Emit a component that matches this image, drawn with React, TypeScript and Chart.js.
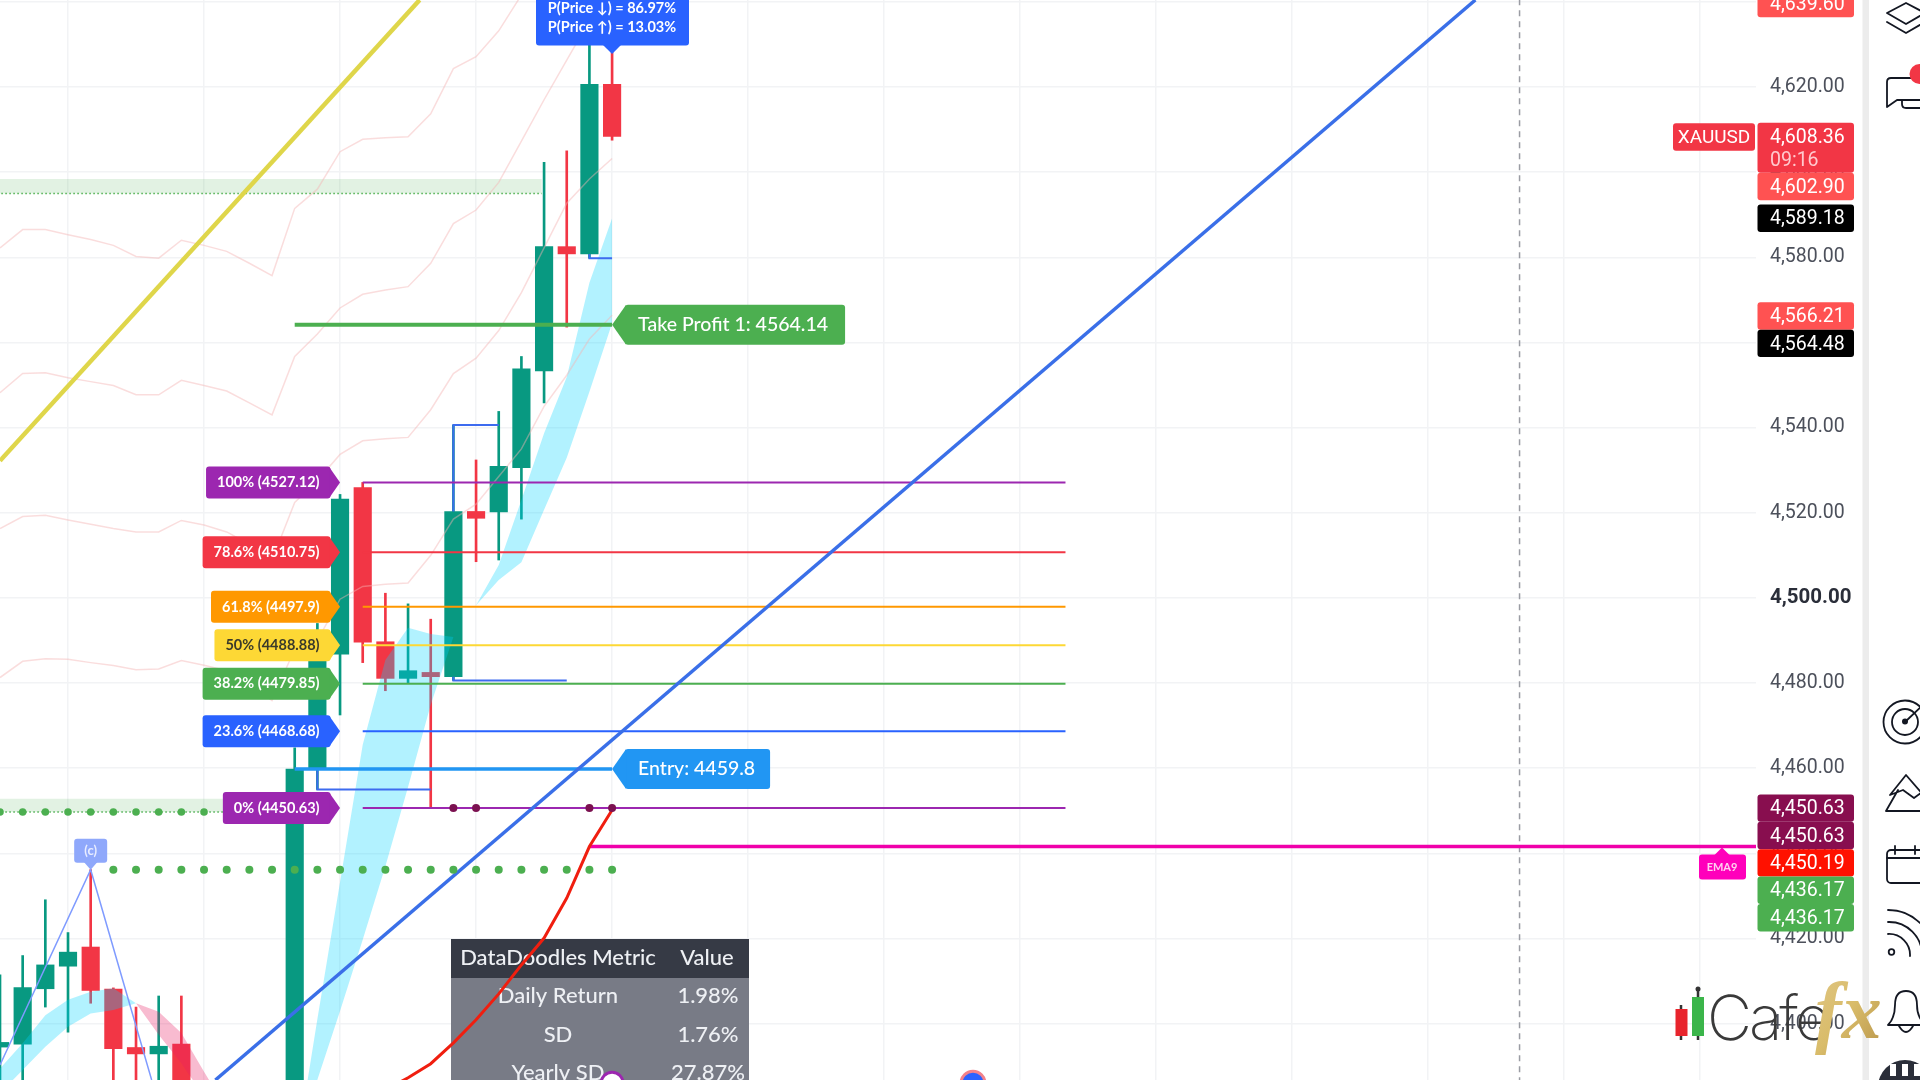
import { useEffect, useRef } from "react";
import { Chart, registerables, type Plugin } from "chart.js";

Chart.register(...registerables);

const UP = "#089981";
const DOWN = "#f23645";
const FONT = "Lato, sans-serif";
const AXIS_FONT = "Roboto, sans-serif";

// candles, index 0 is the left edge of the view; 9-12 sit below the visible range
const opens = [4394.5, 4395.2, 4408.2, 4413.5, 4418, 4408.1, 4394.4, 4392.9, 4395.2, null, null, null, null, 4380, 4460, 4486.8, 4525.9, 4489.7, 4481.1, 4482.5, 4481.5, 4520.3, 4520.2, 4530.6, 4553.3, 4582.5, 4580.8, 4620.6];
const closes = [4395.6, 4408.5, 4413.8, 4416.8, 4407.8, 4394.1, 4392.9, 4394.7, 4380, null, null, null, null, 4459.8, 4486, 4523.2, 4489.6, 4481.1, 4482.9, 4481.5, 4520.3, 4518.7, 4530.9, 4553.8, 4582.5, 4580.8, 4620.6, 4608.36];
const highs = [4411.5, 4416, 4429.1, 4421.4, 4436.17, 4408.4, 4403.9, 4406.5, 4406.5, null, null, null, null, 4464.8, 4494, 4524.3, 4527.12, 4501.1, 4498.6, 4495, 4540.6, 4532.4, 4543.8, 4556.7, 4602.3, 4605, 4635, 4630];
const lows = [4380, 4380, 4403.9, 4398, 4404.8, 4380, 4380, 4380, 4375, null, null, null, null, 4375, 4455, 4472.5, 4484.8, 4478.2, 4479.85, 4450.63, 4480.6, 4508.5, 4508.9, 4518.5, 4545.8, 4563.6, 4579.8, 4607.5];

const priceTicks = [4400, 4420, 4440, 4460, 4480, 4500, 4520, 4540, 4560, 4580, 4600, 4620, 4640];
const gridBars = [3, 9, 15, 21, 27, 33, 39, 45, 51, 57, 63, 69, 75];

// the four pale envelope lines, one value per bar
const envelope1 = [4582.2, 4586.5, 4586.5, 4585.3, 4584.2, 4582.8, 4580.2, 4579.8, 4584, 4582.8, 4581.4, 4578.6, 4575.7, 4591.5, 4596, 4604.8, 4607.7, 4608.1, 4608.3, 4613.7, 4624.3, 4627.1, 4633.2, 4641.6];
const envelope2 = [4548.2, 4552.7, 4552.9, 4551.7, 4550.8, 4549.9, 4547.7, 4547.7, 4551.1, 4549.9, 4548.6, 4545.8, 4543, 4556.7, 4562, 4568.1, 4571.3, 4572.3, 4573.1, 4578.6, 4587.9, 4591.1, 4597.6, 4607.3, 4617, 4626.3, 4635.6, 4644.5];
const envelope3 = [4516.3, 4519.1, 4519.4, 4518.3, 4517.3, 4516.3, 4515.5, 4515.5, 4518.2, 4517.1, 4515.5, 4512.6, 4508.9, 4522.4, 4527.6, 4533.7, 4536.9, 4537.4, 4537.7, 4544.2, 4552.7, 4556.3, 4562.8, 4571.7, 4582.2, 4592.7, 4598.4, 4603.2];
const envelope4 = [4481.3, 4485.1, 4485.7, 4485.6, 4484.8, 4484.1, 4483.1, 4483.3, 4485.3, 4484.2, 4482.9, 4479.9, 4475.9, 4488, 4490, 4499.7, 4502.7, 4503.2, 4503.5, 4510, 4518.5, 4522, 4528.5, 4535, 4545, 4552.3, 4560.8, 4566.4];

// EMA cloud pieces: bar numbers with upper and lower edges
const cloudABars = [0, 1, 2, 3, 4, 5, 6];
const cloudAUpper = [4389.5, 4395.4, 4402, 4405.6, 4407.5, 4408.3, 4404.8];
const cloudALower = [4383.7, 4389.1, 4394.6, 4399.3, 4402.4, 4403.2, 4404.8];
const cloudBBars = [6, 7, 8, 9, 10];
const cloudBUpper = [4404.8, 4402.8, 4397.8, 4388.7, 4380];
const cloudBLower = [4404.8, 4397.4, 4390.7, 4382.9, 4375];
const cloudCBars = [13, 14, 15, 16, 17, 18, 19, 20, 21, 22, 23, 24, 25, 26, 27];
const cloudCUpper = [4367.8, 4401.1, 4433.3, 4465.5, 4485.4, 4493, 4491.5, 4490.8, 4498.3, 4507.7, 4523, 4538.7, 4551.9, 4574, 4589.18];
const cloudCLower = [4367.8, 4386.8, 4403, 4419.7, 4437, 4455.6, 4474.9, 4490.8, 4498.3, 4504.2, 4508.4, 4520.7, 4532.9, 4548.4, 4564.48];

const redLineBars = [16, 17, 18, 19, 20, 21, 22, 23, 24, 25, 26, 27];
const redLine = [4382, 4384.4, 4387.3, 4390.6, 4395.5, 4400.9, 4407, 4413.8, 4420.1, 4429.5, 4441.6, 4450.19];

const fibNames = ["100%", "78.6%", "61.8%", "50%", "38.2%", "23.6%", "0%"];
const fibLevels = [4527.12, 4510.75, 4497.9, 4488.88, 4479.85, 4468.68, 4450.63];
const fibTexts = ["4527.12", "4510.75", "4497.9", "4488.88", "4479.85", "4468.68", "4450.63"];
const fibColors = ["#9c27b0", "#f23645", "#ff9800", "#fdd835", "#4caf50", "#2962ff", "#9c27b0"];

const takeProfit = 4564.14;
const entry = 4459.8;
const ema9 = 4441.6;

const greenDotBars = [5, 6, 7, 8, 9, 10, 11, 12, 13, 14, 15, 16, 17, 18, 19, 20, 21, 22, 23, 24, 25, 26, 27];
const zoneDotBars = [0, 1, 2, 3, 4, 5, 6, 7, 8, 9];
const purpleDotBars = [20, 21, 26, 27];

const tagValues = [4639.6, 4608.36, 4602.9, 4589.18, 4566.21, 4564.48, 4450.63, 4450.63, 4450.19, 4436.17, 4436.17];
const tagColors = ["#ff5252", "#f23645", "#ff5252", "#000000", "#ff5252", "#000000", "#880e4f", "#880e4f", "#ff1100", "#4caf50", "#4caf50"];

const tableHeader = ["DataDoodles Metric", "Value"];
const tableMetrics = ["Daily Return", "SD", "Yearly SD"];
const tableValues = ["1.98%", "1.76%", "27.87%"];

const xy = (bars: number[], values: number[]) => bars.map((x, i) => ({ x, y: values[i] }));
const series = (values: number[]) => values.map((y, x) => ({ x, y }));

function line(data: { x: number; y: number | null }[], color: string, width: number, order: number, extra: object = {}) {
  return { type: "line" as const, data, borderColor: color, borderWidth: width, pointRadius: 0, tension: 0, order, ...extra };
}

function dots(data: { x: number; y: number }[], color: string, radius: number, order: number) {
  return { type: "line" as const, data, showLine: false, pointRadius: radius, pointBackgroundColor: color, pointBorderWidth: 0, order };
}

function band(bars: number[], upper: number[], lower: number[], color: string, order: number) {
  return [
    line(xy(bars, upper), "transparent", 0, order, { fill: "+1", backgroundColor: color }),
    line(xy(bars, lower), "transparent", 0, order),
  ];
}

function pointerBox(ctx: CanvasRenderingContext2D, left: number, right: number, top: number, bottom: number, color: string) {
  ctx.fillStyle = color;
  ctx.beginPath();
  ctx.roundRect(left, top, right - left, bottom - top, 3);
  ctx.fill();
}

const overlays: Plugin = {
  id: "overlays",
  beforeDatasetsDraw(chart) {
    // stats table sits under the indicator lines
    const ctx = chart.ctx;
    ctx.save();
    ctx.fillStyle = "#787b86";
    ctx.fillRect(451, 978, 298, 110);
    ctx.fillStyle = "#363a45";
    ctx.fillRect(451, 939, 298, 39);
    ctx.font = `500 22px ${FONT}`;
    ctx.fillStyle = "#eef0f4";
    ctx.textAlign = "center";
    ctx.textBaseline = "middle";
    ctx.fillText(tableHeader[0], 558, 958);
    ctx.fillText(tableHeader[1], 707, 958);
    tableMetrics.forEach((m, i) => {
      const y = 996 + i * 38.5;
      ctx.fillText(m, 558, y);
      ctx.fillText(tableValues[i], 708, y);
    });
    ctx.restore();
  },
  afterDraw(chart) {
    const ctx = chart.ctx;
    const xs = chart.scales.x;
    const ys = chart.scales.y;
    ctx.save();
    ctx.textBaseline = "middle";

    // fib labels, all pointing at the same bar
    const tipX = xs.getPixelForValue(15);
    ctx.font = `700 14.5px ${FONT}`;
    fibNames.forEach((name, i) => {
      const y = ys.getPixelForValue(fibLevels[i]);
      const text = `${name} (${fibTexts[i]})`;
      const w = ctx.measureText(text).width + 22;
      const right = tipX - 9.5;
      pointerBox(ctx, right - w, right, y - 16, y + 16, fibColors[i]);
      ctx.beginPath();
      ctx.moveTo(right - 1, y - 15);
      ctx.lineTo(tipX, y);
      ctx.lineTo(right - 1, y + 15);
      ctx.fill();
      ctx.fillStyle = name === "50%" ? "#3a3a2a" : "#ffffff";
      ctx.textAlign = "left";
      ctx.fillText(text, right - w + 11, y);
    });

    // take profit / entry tags
    const lastX = xs.getPixelForValue(27);
    ctx.font = `500 19.5px ${FONT}`;
    const tags: [string, number, string, number][] = [
      [`Take Profit 1: ${takeProfit}`, takeProfit, "#4caf50", 220],
      [`Entry: ${entry}`, entry, "#2196f3", 145],
    ];
    tags.forEach(([text, value, color, w]) => {
      const y = ys.getPixelForValue(value);
      pointerBox(ctx, lastX + 13, lastX + 13 + w, y - 20, y + 20, color);
      ctx.beginPath();
      ctx.moveTo(lastX + 14, y - 20);
      ctx.lineTo(lastX, y);
      ctx.lineTo(lastX + 14, y + 20);
      ctx.fill();
      ctx.fillStyle = "#ffffff";
      ctx.textAlign = "left";
      ctx.fillText(text, lastX + 26, y);
    });

    // probability tag at the top
    pointerBox(ctx, 536, 689, -12, 45.5, "#2962ff");
    ctx.beginPath();
    ctx.moveTo(603, 45);
    ctx.lineTo(lastX, 54);
    ctx.lineTo(621, 45);
    ctx.fill();
    ctx.fillStyle = "#ffffff";
    ctx.textAlign = "center";
    ctx.font = `700 14.5px ${FONT}`;
    ctx.fillText("P(Price ↓) = 86.97%", 612, 8.5);
    ctx.fillText("P(Price ↑) = 13.03%", 612, 27.5);

    // wave label
    const waveX = xs.getPixelForValue(4);
    const waveY = ys.getPixelForValue(highs[4] as number);
    pointerBox(ctx, waveX - 16.5, waveX + 16.5, waveY - 31, waveY - 7, "#8fa8fb");
    ctx.beginPath();
    ctx.moveTo(waveX - 7, waveY - 8);
    ctx.lineTo(waveX, waveY);
    ctx.lineTo(waveX + 7, waveY - 8);
    ctx.fill();
    ctx.fillStyle = "#e8edff";
    ctx.font = `700 13px ${FONT}`;
    ctx.fillText("(c)", waveX, waveY - 19);

    // EMA9 flag
    const emaY = ys.getPixelForValue(ema9);
    pointerBox(ctx, 1699, 1746, emaY + 8, emaY + 33, "#ff00bb");
    ctx.beginPath();
    ctx.moveTo(1714, emaY + 9);
    ctx.lineTo(1722, emaY + 1);
    ctx.lineTo(1730, emaY + 9);
    ctx.fill();
    ctx.fillStyle = "#ffd0f0";
    ctx.font = `700 11px ${FONT}`;
    ctx.fillText("EMA9", 1722, emaY + 21);

    // price scale tags, stacked downwards when they would overlap
    ctx.font = `19.5px ${AXIS_FONT}`;
    pointerBox(ctx, 1673, 1755, 123.3, 150.8, "#f23645");
    ctx.fillStyle = "#ffffff";
    ctx.font = `19px ${AXIS_FONT}`;
    ctx.fillText("XAUUSD", 1714, 138);
    ctx.font = `19.5px ${AXIS_FONT}`;
    let bottom = -Infinity;
    tagValues.forEach((value, i) => {
      const extra = value === closes[27] ? 22.5 : 0;
      const top = Math.max(ys.getPixelForValue(value) - 13.7, bottom);
      bottom = top + 27.4 + extra;
      pointerBox(ctx, 1757.5, 1854, top, bottom, tagColors[i]);
      ctx.fillStyle = "#ffffff";
      ctx.textAlign = "left";
      ctx.fillText(value.toLocaleString("en-US", { minimumFractionDigits: 2 }), 1770, top + 15);
      if (extra) {
        ctx.fillStyle = "#ffc9ce";
        ctx.fillText("09:16", 1770, top + 38);
      }
    });
    ctx.restore();
  },
};

function SideIcons() {
  return (
    <svg width={1920} height={1080} style={{ position: "absolute", left: 0, top: 0, pointerEvents: "none" }}>
      <defs>
        <linearGradient id="gold" x1="0" y1="0" x2="1" y2="1">
          <stop offset="0" stopColor="#e0c684" />
          <stop offset="0.5" stopColor="#d9bc6a" />
          <stop offset="1" stopColor="#b8954a" />
        </linearGradient>
      </defs>
      <rect x={1862.5} y={0} width={6.5} height={1080} fill="#ececec" />
      <g fill="none" stroke="#131722" strokeWidth={1.8} strokeLinejoin="round" strokeLinecap="round">
        <path d="M1887 13 L1906 3 L1925 13 L1906 24 Z" />
        <path d="M1887 22 L1906 33 L1925 22" />
        <path d="M1925 78 H1891 Q1887 78 1887 82 V107 L1897 100 H1925" />
        <path d="M1902 101 V104 Q1902 108 1906 108 H1925" />
        <circle cx={1905} cy={722} r={21.5} />
        <circle cx={1905} cy={722} r={13} />
        <path d="M1905 722 L1925 703" />
        <path d="M1886 811 L1898 790 M1886 811 H1925 M1890 795 L1906 775 L1925 797 M1890 795 L1903 790 L1914 798 L1925 790" />
        <rect x={1887} y={850} width={40} height={33} rx={4} />
        <path d="M1895 846 V854 M1915 846 V854 M1887 858 H1927" />
        <circle cx={1891.5} cy={952} r={2.8} />
        <path d="M1888 934 A21 21 0 0 1 1910 956 M1888 922 A33 33 0 0 1 1922 956 M1888 910 A46 46 0 0 1 1934 956" />
        <path d="M1888 1025 Q1895 1018 1895 1005 Q1895 991 1906 991 Q1917 991 1917 1005 Q1917 1018 1926 1025 Z" />
        <path d="M1899 1026 Q1906 1038 1913 1026" />
      </g>
      <circle cx={1919.5} cy={74} r={10} fill="#f23645" />
      <circle cx={1905} cy={721.5} r={3} fill="#131722" />
      <circle cx={1905} cy={1087} r={27} fill="#2a2e39" />
      <path d="M1893 1064 V1076 M1905 1064 V1076 M1917 1064 V1076" stroke="#ffffff" strokeWidth={6} />
      <g>
        <path d="M1681 1005 V1040 M1698 989 V1040" stroke="#333333" strokeWidth={2.5} />
        <circle cx={1698} cy={989} r={2.5} fill="#333333" />
        <rect x={1675.5} y={1009} width={12} height={27} fill="#e8242c" />
        <rect x={1692} y={997} width={12} height={39} fill="#3bb54a" />
        <text x={1707} y={1040} fontFamily="Inter, sans-serif" fontWeight={200} fontSize={62} letterSpacing={-3} fill="#3a3a3a">Cafe</text>
        <text x={1815} y={1038} fontFamily="'Liberation Serif', serif" fontStyle="italic" fontWeight={700} fontSize={80} fill="url(#gold)">fx</text>
      </g>
    </svg>
  );
}

export default function App() {
  const canvasRef = useRef<HTMLCanvasElement>(null);

  useEffect(() => {
    if (!canvasRef.current) return;
    const bars = opens.map((_, i) => i).filter((i) => opens[i] !== null);
    const barColors = bars.map((i) => ((closes[i] as number) >= (opens[i] as number) ? UP : DOWN));
    const fibLines = fibLevels.map((level, i) => line(xy([16, 47], [level, level]), fibColors[i], 2, 24));

    const chart = new Chart(canvasRef.current, {
      type: "line",
      data: {
        datasets: [
          // zones behind the candles
          line(xy([-1, 23.9], [4598.4, 4598.4]), "transparent", 0, 100, { fill: "+1", backgroundColor: "rgba(76,175,80,0.16)" }),
          line(xy([-1, 23.9], [4595, 4595]), "#4caf50", 1.5, 100, { borderDash: [1.5, 2.5] }),
          line(xy([-1, 10], [4452.8, 4452.8]), "transparent", 0, 100, { fill: "+1", backgroundColor: "rgba(76,175,80,0.16)" }),
          line(xy([-1, 10], [4449.7, 4449.7]), "#4caf50", 1.5, 100, { borderDash: [1.5, 2.5] }),
          line(xy([67.03, 67.03], [4386, 4641]), "#9a9ca3", 1.5, 98, { borderDash: [6, 5] }),
          {
            type: "bar",
            data: bars.map((i) => ({ x: i, y: [lows[i], highs[i]] })),
            backgroundColor: barColors,
            barThickness: 2,
            grouped: false,
            order: 90,
          } as any,
          {
            type: "bar",
            data: bars.map((i) => ({ x: i, y: [opens[i], closes[i]] })),
            backgroundColor: barColors,
            barThickness: 17.5,
            grouped: false,
            order: 89,
          } as any,
          ...band(cloudABars, cloudAUpper, cloudALower, "rgba(0,212,255,0.3)", 60),
          ...band(cloudBBars, cloudBUpper, cloudBLower, "rgba(233,30,99,0.3)", 60),
          ...band(cloudCBars, cloudCUpper, cloudCLower, "rgba(0,212,255,0.3)", 60),
          line(series(envelope1), "rgba(245,180,180,0.45)", 1.5, 50),
          line(series(envelope2), "rgba(245,180,180,0.45)", 1.5, 50),
          line(series(envelope3), "rgba(245,180,180,0.45)", 1.5, 50),
          line(series(envelope4), "rgba(245,180,180,0.45)", 1.5, 50),
          line(xy([0, 18.51], [4532.2, 4640.43]), "#dfd64a", 4.5, 40),
          line(xy([0, 4, 6.69], [4390.3, 4436.17, 4386.77]), "#7f9bff", 1.5, 38),
          line(xy([14, 14, 19], [4460, 4455, 4455]), "#3d6bef", 2, 36),
          line(xy([20, 20, 25], [4481.5, 4480.6, 4480.6]), "#3d6bef", 2, 36),
          line(xy([20, 20, 22], [4520.3, 4540.6, 4540.6]), "#3d6bef", 2, 36),
          line(xy([26, 26, 27], [4580.8, 4579.8, 4579.8]), "#3d6bef", 2, 36),
          ...fibLines,
          line(xy([13, 27], [takeProfit, takeProfit]), "#4caf50", 4, 22),
          line(xy([13, 27], [entry, entry]), "#2196f3", 3.5, 22),
          line(xy([26, 78], [ema9, ema9]), "#f000aa", 3.5, 21),
          line(xy([9.5, 65.08], [4386.77, 4640.43]), "#3a6fe8", 3.5, 20),
          line(xy(redLineBars, redLine), "#f01e0f", 3, 18),
          dots(zoneDotBars.map((x) => ({ x, y: 4449.7 })), "#4caf50", 3.8, 16),
          dots(greenDotBars.map((x) => ({ x, y: 4436.17 })), "#4caf50", 4, 16),
          dots(purpleDotBars.map((x) => ({ x, y: 4450.63 })), "#7b1150", 4, 16),
          {
            type: "line",
            data: [{ x: 27, y: 4386 }, { x: 42.92, y: 4386 }],
            showLine: false,
            pointRadius: [11, 12],
            pointBackgroundColor: ["#ffffff", "#2962ff"],
            pointBorderColor: ["#9c27b0", "#f2818a"],
            pointBorderWidth: 3,
            order: 12,
          } as any,
        ],
      },
      options: {
        responsive: false,
        animation: false,
        devicePixelRatio: 1,
        events: [],
        layout: { padding: 0, autoPadding: false },
        plugins: { legend: { display: false }, tooltip: { enabled: false } },
        scales: {
          x: {
            type: "linear",
            min: 0,
            max: 77.46,
            offset: false,
            grid: { color: "#f2f3f5", lineWidth: 1.5, drawTicks: false, offset: false },
            border: { display: false },
            ticks: { display: false },
            afterBuildTicks: (axis) => {
              axis.ticks = gridBars.map((value) => ({ value }));
            },
          },
          y: {
            type: "linear",
            position: "right",
            min: 4386.77,
            max: 4640.43,
            grid: { color: "#f2f3f5", lineWidth: 1.5, drawTicks: false },
            border: { display: false },
            ticks: {
              padding: 14,
              autoSkip: false,
              color: (c) => (c.tick?.value === 4500 ? "#2a2e39" : "#4c505b"),
              font: (c) => (c.tick?.value === 4500 ? { family: AXIS_FONT, size: 20.5, weight: 700 } : { family: AXIS_FONT, size: 19.5 }),
              callback: (v) => Number(v).toLocaleString("en-US", { minimumFractionDigits: 2 }),
            },
            afterBuildTicks: (axis) => {
              axis.ticks = priceTicks.map((value) => ({ value }));
            },
            afterFit: (axis) => {
              axis.width = 164;
              axis.paddingTop = 0;
              axis.paddingBottom = 0;
            },
          },
        },
      },
      plugins: [overlays],
    });
    return () => chart.destroy();
  }, []);

  return (
    <div style={{ position: "absolute", left: 0, top: 0, width: 1920, height: 1080, background: "#ffffff", overflow: "hidden" }}>
      <canvas ref={canvasRef} width={1920} height={1080} style={{ display: "block" }} />
      <SideIcons />
    </div>
  );
}
